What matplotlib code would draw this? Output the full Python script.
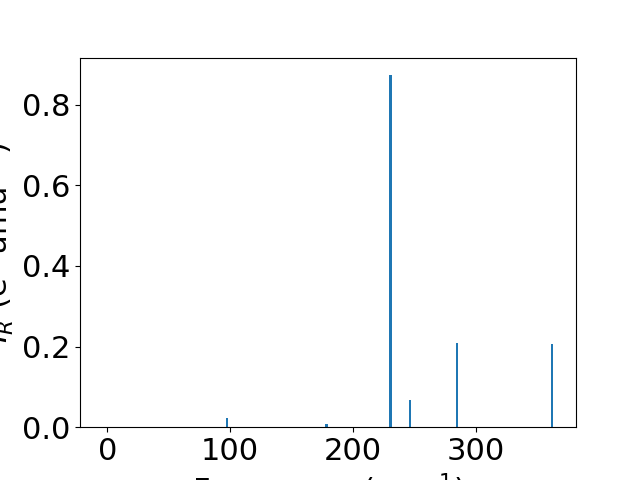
import matplotlib
matplotlib.use("Agg")
import matplotlib.pyplot as plt

# IR-active modes
freqs = [-2.8, 97.6, 178.5, 230.8, 246.7, 284.7, 362.4]
intensities = [0.0, 0.024, 0.009, 0.873, 0.0686, 0.2097, 0.207]

plt.rcParams['font.size'] = 22

fig, ax = plt.subplots(figsize=(6.4, 4.8), dpi=100)
ax.bar(freqs, intensities, width=2.0, color='#1f77b4')
ax.set_xlabel('Frequency (cm$^{-1}$)')
ax.set_ylabel('$I_R$ (e$^2$ amu$^{-1}$)')
ax.set_xticks([0, 100, 200, 300])
ax.set_yticks([0.0, 0.2, 0.4, 0.6, 0.8])

fig.savefig('out.png')
